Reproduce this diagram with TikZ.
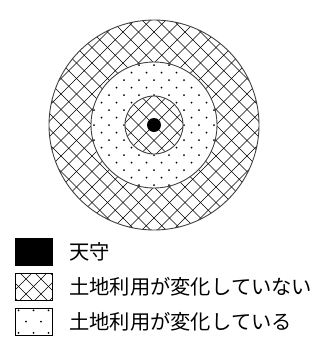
\documentclass[tikz,border=0pt]{standalone}
\usepackage{fontspec}
\newfontfamily\jp{Noto Sans CJK JP}
\tikzset{
  ring/.style={draw=black!75, line width=0.9pt},
  hatchline/.style={draw=black, line width=0.6pt},
  keybox/.style={draw=black, line width=0.8pt, minimum width=37pt, minimum height=27pt, inner sep=0pt, outer sep=0pt},
  keytext/.style={anchor=west, inner sep=0pt, font=\jp\fontsize{20.3}{20.3}\selectfont},
}
\begin{document}
\begin{tikzpicture}[x=1pt,y=-1pt]
\useasboundingbox (0,0) rectangle (321,349);
\coordinate (c) at (154,125);
% crosshatched regions
\begin{scope}[even odd rule]
  \clip (154,125) circle[radius=105] (154,125) circle[radius=63] (154,125) circle[radius=29];
  \foreach \k in {-16,...,16} {
    \draw[hatchline] (154+\k*15.5-120,5) -- ++(240,240);
    \draw[hatchline] (154+\k*15.5+120,5) -- ++(-240,240);
  }
\end{scope}
% dotted region
\begin{scope}[even odd rule]
  \clip (154,125) circle[radius=63] (154,125) circle[radius=29];
  \foreach \i in {-9,...,9} {
    \foreach \j in {-9,...,9} {
      \pgfmathtruncatemacro{\pty}{mod(\i+\j+100,2)}
      \ifnum\pty=0 \fill (154+7.5*\i,125+7.5*\j) circle[radius=1]; \fi
    }
  }
\end{scope}
\draw[ring] (c) circle[radius=105];
\draw[ring] (c) circle[radius=63];
\draw[ring] (c) circle[radius=29];
\fill (c) circle[radius=7];
% legend
\node[keybox, fill=black] (k1) at (33.5,251.5) {};
\node[keybox, path picture={
  \foreach \k in {-4,...,4} {
    \draw[hatchline] ([xshift=\k*15pt-30pt, yshift=30pt]path picture bounding box.center) -- ++(60pt,-60pt);
    \draw[hatchline] ([xshift=\k*15pt+30pt, yshift=30pt]path picture bounding box.center) -- ++(-60pt,-60pt);
  }}] (k2) at (33.5,286.5) {};
\node[keybox, path picture={
  \foreach \i/\j in {-2/-1.5,0/-1.5,2/-1.5,-1/0,1/0,-2/1.5,0/1.5,2/1.5} {
    \fill ([xshift=\i*7.5pt, yshift=\j*7.5pt]path picture bounding box.center) circle[radius=1pt];
  }}] (k3) at (33.5,321.5) {};
\node[keytext] (t1) at (69,252) {天守};
\node[keytext] (t2) at (69,287) {土地利用が変化していない};
\node[keytext] (t3) at (69,322) {土地利用が変化している};
\end{tikzpicture}
\end{document}
